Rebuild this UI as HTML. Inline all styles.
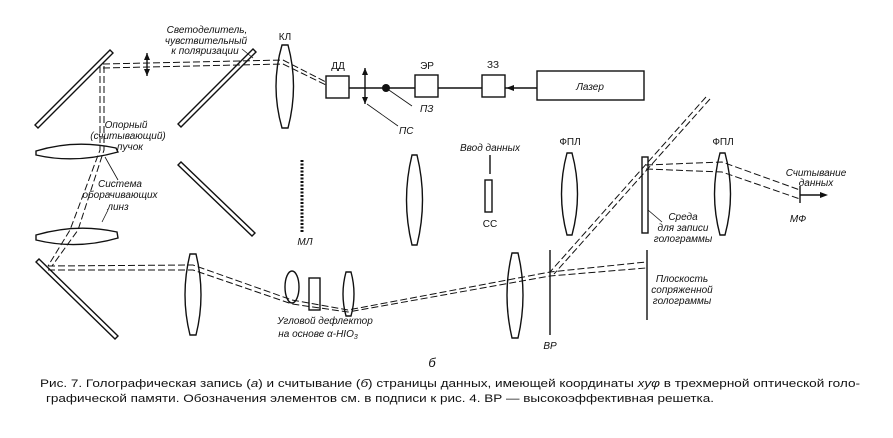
<!DOCTYPE html>
<html><head><meta charset="utf-8"><style>
body{margin:0;background:#fff;}
svg{display:block;}
text{font-family:"Liberation Sans","DejaVu Sans",sans-serif;fill:#111;}
.it{font-style:italic;font-size:10px;}
.lb{font-size:10px;}
</style></head><body>
<svg width="893" height="438" viewBox="0 0 893 438" xmlns="http://www.w3.org/2000/svg">
<g stroke="#111" fill="none" stroke-width="1.4">
<polygon points="35,125 110,50 113,53 38,128"/>
<polygon points="178,124 253,49 256,52 181,127"/>
<polygon points="178,165 181,162 255,233 252,236"/>
<polygon points="36,262 39,259 118,336 115,339"/>
<path d="M36,151 Q75,139 116,148 L118,152 Q75,164 36,155 Z"/>
<path d="M36,235 Q77,223 117,232 L118,238 Q77,250 36,240 Z"/>
<path d="M282,45 Q270,86 282,128 L288,128 Q299,86 288,45 Z"/>
<path d="M412,155 Q401,200 412,245 L417,245 Q428,200 417,155 Z"/>
<path d="M567,153 Q556,194 567,235 L572,235 Q583,194 572,153 Z"/>
<path d="M720,153 Q709,194 720,235 L725,235 Q736,194 725,153 Z"/>
<path d="M190,254 Q180,295 190,335 L196,335 Q206,295 196,254 Z"/>
<path d="M512,253 Q502,295 512,338 L518,338 Q528,295 518,253 Z"/>
<ellipse cx="292" cy="287" rx="7" ry="16"/>
<rect x="309" y="278" width="11" height="32"/>
<path d="M346,272 Q340,294 346,316 L351,316 Q357,294 351,272 Z"/>
<rect x="326" y="76" width="23" height="22"/>
<rect x="415" y="75" width="23" height="22"/>
<rect x="482" y="75" width="23" height="22"/>
<rect x="537" y="71" width="107" height="29"/>
<line x1="349" y1="88" x2="415" y2="88"/>
<line x1="438" y1="88" x2="482" y2="88"/>
<line x1="505" y1="88" x2="537" y2="88"/>
<rect x="485" y="180" width="7" height="32"/>
<line x1="490" y1="155" x2="490" y2="174"/>
<rect x="642" y="157" width="6" height="76"/>
<line x1="648" y1="210" x2="662" y2="222" stroke-width="0.8"/>
<line x1="550" y1="250" x2="550" y2="335"/>
<line x1="647" y1="250" x2="647" y2="320"/>
<line x1="800" y1="186" x2="800" y2="203"/>
<line x1="800" y1="195" x2="820" y2="195"/>
<line x1="302" y1="160" x2="302" y2="232" stroke-dasharray="2,1.5" stroke-width="3"/>
<line x1="147" y1="53" x2="147" y2="76"/>
<line x1="365" y1="68" x2="365" y2="104"/>
<line x1="242" y1="49" x2="253" y2="58" stroke-width="0.8"/>
<line x1="386" y1="88" x2="412" y2="106" stroke-width="0.8"/>
<line x1="367" y1="104" x2="398" y2="126" stroke-width="0.8"/>
<line x1="105" y1="157" x2="118" y2="180" stroke-width="0.8"/>
<line x1="108" y1="210" x2="102" y2="222" stroke-width="0.8"/>
</g>
<g fill="#111">
<polygon points="147,53 144,60 150,60"/><polygon points="147,76 144,69 150,69"/>
<polygon points="365,68 362,75 368,75"/><polygon points="365,104 362,97 368,97"/>
<polygon points="506,88 514,85 514,91"/>
<polygon points="828,195 820,192 820,198"/>
<circle cx="386" cy="88" r="4"/>
</g>
<g stroke="#111" fill="none" stroke-width="1" stroke-dasharray="7,3">
<polyline points="103,64 283,60 326,82"/>
<polyline points="103,68 283,64 326,85"/>
<polyline points="100,66 100,150 70,230 48,266"/>
<polyline points="104,66 104,150 78,230 52,266"/>
<polyline points="48,266 193,265 292,300 348,310 550,272 646,262"/>
<polyline points="48,270 193,270 292,304 348,312 550,276 646,268"/>
<line x1="706" y1="97" x2="550" y2="272"/>
<line x1="710" y1="99" x2="554" y2="274"/>
<polyline points="646,165 722,162 800,190"/>
<polyline points="646,169 722,172 800,199"/>
</g>
<text class="it" x="207" y="33" text-anchor="middle">Светоделитель,</text>
<text class="it" x="206" y="44" text-anchor="middle">чувствительный</text>
<text class="it" x="205" y="54" text-anchor="middle">к поляризации</text>
<text class="lb" x="285" y="40" text-anchor="middle">КЛ</text>
<text class="lb" x="338" y="69" text-anchor="middle">ДД</text>
<text class="lb" x="427" y="69" text-anchor="middle">ЭР</text>
<text class="lb" x="493" y="68" text-anchor="middle">ЗЗ</text>
<text class="it" x="590" y="90" text-anchor="middle">Лазер</text>
<text class="it" x="420" y="112">ПЗ</text>
<text class="it" x="399" y="134">ПС</text>
<text class="it" x="126" y="128" text-anchor="middle">Опорный</text>
<text class="it" x="128" y="139" text-anchor="middle">(считывающий)</text>
<text class="it" x="130" y="150" text-anchor="middle">пучок</text>
<text class="it" x="120" y="187" text-anchor="middle">Система</text>
<text class="it" x="120" y="198" text-anchor="middle">оборачивающих</text>
<text class="it" x="118" y="210" text-anchor="middle">линз</text>
<text class="it" x="305" y="245" text-anchor="middle">МЛ</text>
<text class="it" x="490" y="151" text-anchor="middle">Ввод данных</text>
<text class="lb" x="490" y="227" text-anchor="middle">СС</text>
<text class="lb" x="570" y="145" text-anchor="middle">ФПЛ</text>
<text class="lb" x="723" y="145" text-anchor="middle">ФПЛ</text>
<text class="it" x="683" y="220" text-anchor="middle">Среда</text>
<text class="it" x="683" y="231" text-anchor="middle">для записи</text>
<text class="it" x="683" y="242" text-anchor="middle">голограммы</text>
<text class="it" x="816" y="176" text-anchor="middle" font-size="9">Считывание</text>
<text class="it" x="816" y="186" text-anchor="middle" font-size="9">данных</text>
<text class="it" x="798" y="222" text-anchor="middle">МФ</text>
<text class="it" x="682" y="282" text-anchor="middle" font-size="9.5">Плоскость</text>
<text class="it" x="682" y="293" text-anchor="middle" font-size="9.5">сопряженной</text>
<text class="it" x="682" y="304" text-anchor="middle" font-size="9.5">голограммы</text>
<text class="it" x="325" y="324" text-anchor="middle">Угловой дефлектор</text>
<text class="it" x="318" y="337" text-anchor="middle">на основе α-HIO<tspan font-size="7" dy="2">3</tspan></text>
<text class="it" x="550" y="349" text-anchor="middle">ВР</text>
<text x="432" y="367" text-anchor="middle" font-style="italic" font-size="13" font-family="Liberation Serif">б</text>
<text x="40" y="387" font-size="11.2" textLength="820" lengthAdjust="spacingAndGlyphs">Рис. 7. Голографическая запись (<tspan font-style="italic">а</tspan>) и считывание (<tspan font-style="italic">б</tspan>) страницы данных, имеющей координаты <tspan font-style="italic">xyφ</tspan> в трехмерной оптической голо-</text>
<text x="46" y="402" font-size="11.2" textLength="668" lengthAdjust="spacingAndGlyphs">графической памяти. Обозначения элементов см. в подписи к рис. 4. ВР — высокоэффективная решетка.</text>
</svg>
</body></html>
